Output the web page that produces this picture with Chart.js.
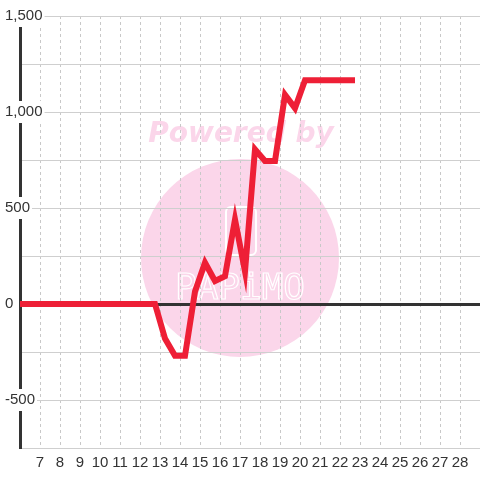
<!DOCTYPE html>
<html>
<head>
<meta charset="utf-8">
<script src="https://cdn.jsdelivr.net/npm/chart.js@4"></script>
<style>
  html, body { margin: 0; padding: 0; background: #fff; }
  #wrap { width: 480px; height: 480px; }
</style>
</head>
<body>
<div id="wrap"><canvas id="chart" width="480" height="480"></canvas></div>
<script>
// x positions (day) and values
const days = [5.75, 6.25, 6.75, 7.25, 7.75, 8.25, 8.75, 9.25, 9.75, 10.25, 10.75, 11.25, 11.75, 12.25, 12.75,
              13.25, 13.75, 14.25, 14.75, 15.25, 15.75, 16.25, 16.75, 17.25, 17.75, 18.25, 18.75,
              19.25, 19.75, 20.25, 20.75, 21.25, 21.75, 22.25, 22.75];
const values = [0, 0, 0, 0, 0, 0, 0, 0, 0, 0, 0, 0, 0, 0, 0,
                -180, -270, -270, 65, 215, 120, 145, 440, 170, 805, 745, 745,
                1090, 1020, 1165, 1165, 1165, 1165, 1165, 1165];
const xRange = [6, 29];
const yRange = [-750, 1500];

const points = days.map((d, i) => ({ x: d, y: values[i] }));

// pink watermark behind the chart
const watermark = {
    id: 'watermark',
    beforeDraw(chart) {
        const ctx = chart.ctx;
        ctx.save();
        ctx.fillStyle = '#ffffff';
        ctx.fillRect(0, 0, chart.width, chart.height);

        ctx.fillStyle = '#fbd6ea';
        ctx.beginPath();
        ctx.arc(240, 258, 99, 0, Math.PI * 2);
        ctx.fill();

        ctx.font = 'italic bold 28px "DejaVu Sans"';
        ctx.textAlign = 'center';
        ctx.textBaseline = 'middle';
        ctx.fillText('Powered by', 241, 135, 188);

        // logo outline
        ctx.strokeStyle = '#ffffff';
        ctx.lineWidth = 2;
        ctx.beginPath();
        ctx.roundRect(226, 207, 30, 48, 5);
        ctx.stroke();
        ctx.font = '36px "DejaVu Sans Mono"';
        ctx.lineWidth = 1.2;
        ctx.strokeText('PAPiMO', 240, 290, 132);
        ctx.restore();
    }
};

const ctx = document.getElementById('chart').getContext('2d');
new Chart(ctx, {
    type: 'line',
    data: {
        datasets: [{
            data: points,
            borderColor: '#ee1f36',
            borderWidth: 6,
            pointRadius: 0,
            tension: 0,
            fill: false
        }]
    },
    options: {
        responsive: false,
        animation: false,
        layout: { padding: { top: 16, right: 0, left: 0, bottom: 0 } },
        plugins: {
            legend: { display: false },
            tooltip: { enabled: false }
        },
        scales: {
            x: {
                type: 'linear',
                min: xRange[0],
                max: xRange[1],
                afterFit(scale) { scale.height = 32; },
                grid: {
                    color: '#c8c8c8',
                    lineWidth: 1,
                    drawTicks: false
                },
                border: { display: false, dash: [3, 3] },
                ticks: {
                    stepSize: 1,
                    autoSkip: false,
                    maxRotation: 0,
                    padding: 6,
                    color: '#333',
                    font: { family: '"Liberation Sans"', size: 15 },
                    callback: v => (v > xRange[0] && v < xRange[1]) ? String(v) : null
                }
            },
            y: {
                min: yRange[0],
                max: yRange[1],
                afterFit(scale) { scale.width = 20; },
                border: { color: '#333', width: 3 },
                grid: {
                    drawTicks: false,
                    color: c => c.tick.value === 0 ? '#333' : '#cfcfcf',
                    lineWidth: c => c.tick.value === 0 ? 3 : 1
                },
                ticks: {
                    stepSize: 250,
                    mirror: true,
                    crossAlign: 'near',
                    padding: -15,
                    color: '#333',
                    font: { family: '"Liberation Sans"', size: 15 },
                    showLabelBackdrop: c => c.tick.value % 500 === 0,
                    backdropColor: '#ffffff',
                    backdropPadding: 2,
                    callback: v => v % 500 === 0 ? v.toLocaleString('en-US') : ''
                }
            }
        }
    },
    plugins: [watermark]
});
</script>
</body>
</html>
